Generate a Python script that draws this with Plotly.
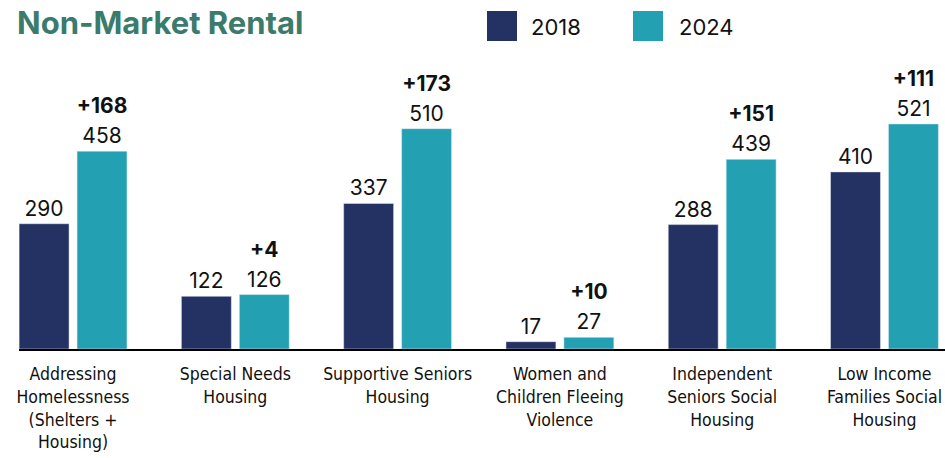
import plotly.graph_objects as go

# ---------------- data ----------------
categories = [
    "Addressing<br>Homelessness<br>(Shelters +<br>Housing)",
    "Special Needs<br>Housing",
    "Supportive Seniors<br>Housing",
    "Women and<br>Children Fleeing<br>Violence",
    "Independent<br>Seniors Social<br>Housing",
    "Low Income<br>Families Social<br>Housing",
]
units_2018 = [290, 122, 337, 17, 288, 410]
units_2024 = [458, 126, 510, 27, 439, 521]
change = [b - a for a, b in zip(units_2018, units_2024)]

NAVY = "#243163"
TEAL = "#23a1b3"
GREEN = "#3a7b6b"
NUM_FONT = "Inter, 'Open Sans', sans-serif"
LBL_FONT = "'DejaVu Sans Condensed', 'Liberation Sans Narrow', sans-serif"

W, H = 945, 458
BASE = 349                 # y of the bar baseline (px from top)
ML, MT = 19, 0
PW = W - ML
PH = BASE - MT
MB = H - MT - PH


def px(x):
    return (x - ML) / PW


def py(y):
    return (BASE - y) / PH


fig = go.Figure()
fig.add_trace(go.Bar(
    x=categories, y=units_2018, name="2018", marker_color=NAVY,
    text=[str(v) for v in units_2018], textposition="outside",
    textfont=dict(family=NUM_FONT, size=21, color="#111"),
    constraintext="none", cliponaxis=False, showlegend=False,
))
fig.add_trace(go.Bar(
    x=categories, y=units_2024, name="2024", marker_color=TEAL,
    text=[f"<span style='font-size:21px'><b>+{c}</b></span><br>"
          f"<span style='font-size:21px'>{v}</span>"
          for c, v in zip(change, units_2024)],
    textposition="outside",
    textfont=dict(family=NUM_FONT, size=23, color="#111"),
    constraintext="none", cliponaxis=False, showlegend=False,
))

# legend drawn by hand (big square swatches)
shapes = []
annotations = []
for x0, col, lbl, tx in [(487, NAVY, "2018", 529), (633, TEAL, "2024", 677)]:
    shapes.append(dict(type="rect", xref="paper", yref="paper",
                       x0=px(x0), x1=px(x0 + 30), y0=py(41), y1=py(11),
                       fillcolor=col, line=dict(width=0)))
    annotations.append(dict(text=lbl, xref="paper", yref="paper",
                            x=px(tx), y=py(27), xanchor="left", yanchor="middle",
                            showarrow=False,
                            font=dict(family=NUM_FONT, size=22, color="#111")))

annotations.append(dict(text="<b>Non-Market Rental</b>", xref="paper", yref="paper",
                        x=px(15), y=py(23), xanchor="left", yanchor="middle",
                        showarrow=False,
                        font=dict(family="Inter, 'Open Sans', sans-serif",
                                  size=31, color=GREEN, weight=800)))

fig.update_layout(
    width=W, height=H,
    margin=dict(l=ML, r=0, t=MT, b=MB),
    plot_bgcolor="white", paper_bgcolor="white",
    barmode="group", bargap=0.286, bargroupgap=0.138,
    shapes=shapes, annotations=annotations,
    showlegend=False,
)
fig.update_xaxes(
    range=[-0.333, 5.373], showline=True, linecolor="black", linewidth=2,
    ticks="", showgrid=False, ticklabelstandoff=8,
    tickfont=dict(family=LBL_FONT, size=17.5, color="#111"),
)
fig.update_yaxes(range=[0, PH / 0.432], visible=False)

# drop the default 8px body margin so the chart fills the window
fig.write_html("out.html", config={"displayModeBar": False},
               post_script="document.body.style.margin='0';")
